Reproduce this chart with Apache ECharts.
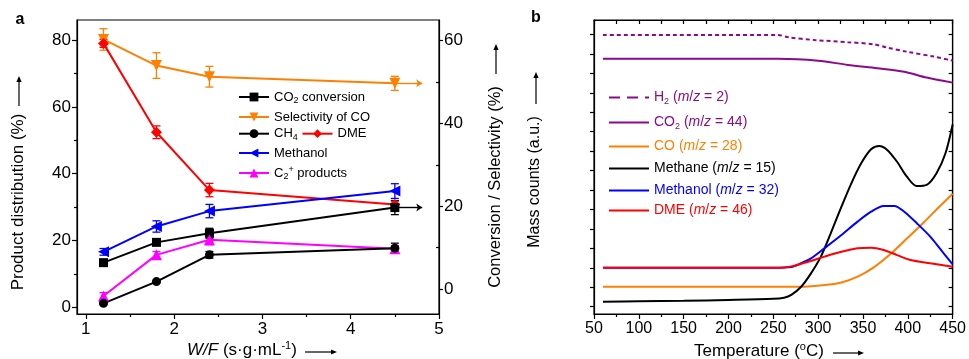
<!DOCTYPE html>
<html><head><meta charset="utf-8">
<script src="https://cdn.jsdelivr.net/npm/echarts@6/dist/echarts.min.js"></script>
<style>html,body{margin:0;padding:0;background:#fff}#c{width:969px;height:359px}</style>
</head><body><div id="c"></div>
<script>
// ---------- Panel a data ----------
const wf = [1.2, 1.8, 2.4, 4.5];
const wfTicks = [1, 2, 3, 4, 5];
const wfMinorTicks = [1.5, 2.5, 3.5, 4.5];
const leftTicks = [0, 20, 40, 60, 80];
const leftMinorTicks = [10, 30, 50, 70];
const rightTicks = [0, 20, 40, 60];
const rightMinorTicks = [10, 30, 50];
const co2Conversion = [6.4, 11.3, 13.5, 19.7];      // right axis
const co2ConversionErr = [0.4, 0.4, 1.2, 1.7];
const coSelectivity = [60.3, 54.0, 51.3, 49.7];     // right axis
const coSelectivityErr = [2.6, 3.1, 2.5, 1.7];
const ch4 = [1.2, 7.7, 15.7, 17.7];
const ch4Err = [0.4, 0.4, 1.0, 1.5];
const dme = [79.0, 52.4, 35.1, 30.8];
const dmeErr = [1.2, 1.9, 2.0, 1.0];
const methanol = [16.6, 24.2, 28.8, 34.8];
const methanolErr = [1.0, 1.7, 2.0, 2.2];
const c2plus = [3.4, 15.7, 20.2, 17.5];
const c2plusErr = [1.0, 1.0, 1.5, 1.0];
const arrowEndX = 4.81;

// ---------- Panel b data ----------
const bTicks = [0.375, 1.375, 2.375, 3.375, 4.375, 5.375, 6.375, 7.375, 8.375, 9.375, 10.375, 11.375, 12.375, 13.375, 14.375];
const h2T = [60, 255, 267, 296, 333, 362, 377, 399, 429, 450];
const h2V = [14.35, 14.35, 14.23, 14.09, 13.98, 13.87, 13.70, 13.49, 13.24, 13.03];
const co2T = [60, 255, 300, 333, 366, 396, 421, 450];
const co2V = [13.13, 13.13, 13.03, 12.81, 12.64, 12.46, 12.16, 11.90];
const coT = [60, 260, 289, 310, 326, 344, 362, 381, 399, 418, 436, 450];
const coV = [1.40, 1.40, 1.42, 1.50, 1.62, 1.92, 2.40, 3.10, 3.88, 4.72, 5.55, 6.18];
const methaneT = [60, 100, 150, 200, 250, 262, 270, 281, 292, 303, 314, 326, 337, 348, 359, 368, 377, 388, 399, 410, 421, 432, 442, 450];
const methaneV = [0.63, 0.66, 0.68, 0.72, 0.78, 0.84, 0.98, 1.40, 2.09, 2.95, 4.15, 5.52, 6.72, 7.75, 8.47, 8.64, 8.44, 7.83, 7.06, 6.58, 6.64, 7.24, 8.27, 9.75];
const methanolT = [60, 250, 270, 281, 292, 307, 326, 344, 359, 373, 385, 396, 410, 425, 440, 450];
const methanolV = [2.38, 2.38, 2.42, 2.61, 2.86, 3.38, 4.06, 4.75, 5.26, 5.56, 5.56, 5.26, 4.67, 3.98, 3.12, 2.55];
const dmeT = [60, 260, 270, 289, 307, 326, 344, 359, 373, 388, 403, 425, 450];
const dmeV = [2.38, 2.38, 2.45, 2.69, 2.95, 3.20, 3.38, 3.41, 3.29, 3.03, 2.78, 2.61, 2.43];

const FONT = '"Liberation Sans", Arial, Helvetica, sans-serif';
const ORANGE = '#ff8000', RED = '#ff0000', BLUE = '#0000ff', MAG = '#ff00ff', PURPLE = '#8b0a8b';
const AX = {color: '#000', width: 1.2};

function pairs(xs, ys) { return xs.map((x, i) => [x, ys[i]]); }

function errSeries(xs, ys, errs, color, yIdx) {
  return {
    type: 'custom', xAxisIndex: 0, yAxisIndex: yIdx, silent: true, z: 1,
    data: xs.map((x, i) => [x, ys[i], errs[i]]),
    renderItem(params, api) {
      const x = api.value(0), y = api.value(1), e = api.value(2);
      const t = api.coord([x, y + e]), b = api.coord([x, y - e]);
      const w = 4, st = {stroke: color, lineWidth: 1.3};
      return {type: 'group', children: [
        {type: 'line', shape: {x1: t[0], y1: t[1], x2: b[0], y2: b[1]}, style: st},
        {type: 'line', shape: {x1: t[0] - w, y1: t[1], x2: t[0] + w, y2: t[1]}, style: st},
        {type: 'line', shape: {x1: b[0] - w, y1: b[1], x2: b[0] + w, y2: b[1]}, style: st}
      ]};
    }
  };
}

function lineA(name, ys, color, symbol, size, yIdx, rotate, arrow) {
  const s = {
    name, type: 'line', xAxisIndex: 0, yAxisIndex: yIdx, data: pairs(wf, ys),
    symbol, symbolSize: size, symbolRotate: rotate || 0, showSymbol: true,
    lineStyle: {color, width: 2}, itemStyle: {color}, z: 3
  };
  if (arrow) {
    s.markLine = {
      silent: true, symbol: ['none', 'arrow'], symbolSize: 6, animation: false,
      label: {show: false}, lineStyle: {color, width: 1.4, type: 'solid'},
      data: [[{coord: [wf[3], ys[3]]}, {coord: [arrowEndX, ys[3]]}]]
    };
  }
  return s;
}

function lineB(name, xs, ys, color, dashed) {
  return {
    name, type: 'line', xAxisIndex: 2, yAxisIndex: 4, data: pairs(xs, ys),
    symbol: 'none', showSymbol: false, smooth: 0.3,
    lineStyle: {color, width: 2, type: dashed ? [4, 3] : 'solid'}, itemStyle: {color}
  };
}

function richA() {
  return {
    n: {fontSize: 13, lineHeight: 16, fontFamily: FONT, color: '#000'},
    s: {fontSize: 9, lineHeight: 9, verticalAlign: 'bottom', fontFamily: FONT, color: '#000'},
    p: {fontSize: 9, lineHeight: 9, verticalAlign: 'top', fontFamily: FONT, color: '#000'}
  };
}
function richB(c) {
  return {
    n: {fontSize: 14, lineHeight: 17, fontFamily: FONT, color: c},
    i: {fontSize: 14, lineHeight: 17, fontFamily: FONT, color: c, fontStyle: 'italic'},
    s: {fontSize: 9, lineHeight: 9, verticalAlign: 'bottom', fontFamily: FONT, color: c}
  };
}
const labelMap = {
  'CO2 conversion': '{n|CO}{s|2}{n| conversion}',
  'Selectivity of CO': '{n|Selectivity of CO}',
  'CH4': '{n|CH}{s|4}',
  'DME': '{n|DME}',
  'Methanol': '{n|Methanol}',
  'C2+ products': '{n|C}{s|2}{p|+}{n| products}',
  'H2 (m/z = 2)': '{n|H}{s|2}{n| (}{i|m}{n|/}{i|z}{n| = 2)}',
  'CO2 (m/z = 44)': '{n|CO}{s|2}{n| (}{i|m}{n|/}{i|z}{n| = 44)}',
  'CO (m/z = 28)': '{n|CO (}{i|m}{n|/}{i|z}{n| = 28)}',
  'Methane (m/z = 15)': '{n|Methane (}{i|m}{n|/}{i|z}{n| = 15)}',
  'Methanol (m/z = 32)': '{n|Methanol (}{i|m}{n|/}{i|z}{n| = 32)}',
  'DME (m/z = 46)': '{n|DME (}{i|m}{n|/}{i|z}{n| = 46)}'
};
function lg(name, left, cy, iw, ih, rich, hideSymbol, lineType) {
  const o = {
    data: [name], left, top: cy - ih / 2, padding: 0, itemGap: 0,
    itemWidth: iw, itemHeight: ih, selectedMode: false,
    formatter: n => labelMap[n], textStyle: {fontFamily: FONT, fontSize: 13, rich}
  };
  if (hideSymbol) o.itemStyle = {opacity: 0};
  if (lineType) o.lineStyle = {type: lineType};
  return o;
}

function arrow(x1, y1, x2, y2) {
  const dx = x2 - x1, dy = y2 - y1, L = Math.hypot(dx, dy), ux = dx / L, uy = dy / L;
  const hl = 6, hw = 2.6;
  const bx = x2 - ux * hl, by = y2 - uy * hl;
  return [
    {type: 'line', shape: {x1, y1, x2: bx, y2: by}, style: {stroke: '#000', lineWidth: 1.2}},
    {type: 'polygon', shape: {points: [[x2, y2], [bx - uy * hw, by + ux * hw], [bx + uy * hw, by - ux * hw]]}, style: {fill: '#000'}}
  ];
}
function txt(x, y, text, opt) {
  opt = opt || {};
  const st = {
    text, x: 0, y: 0, font: (opt.bold ? 'bold ' : '') + (opt.size || 15) + 'px ' + FONT,
    fill: '#000', align: opt.align || 'center', verticalAlign: 'middle',
    textAlign: opt.align || 'center', textVerticalAlign: 'middle'
  };
  if (opt.rich) st.rich = opt.rich;
  return {type: 'text', x, y, rotation: opt.rot || 0, style: st, z: 10};
}

const richName = {
  n: {fontSize: 17, lineHeight: 20, fontFamily: FONT, color: '#000'},
  i: {fontSize: 17, lineHeight: 20, fontFamily: FONT, color: '#000', fontStyle: 'italic'},
  p: {fontSize: 11, lineHeight: 11, verticalAlign: 'top', fontFamily: FONT, color: '#000'}
};

const graphics = [
  txt(20, 20, 'a', {bold: true, size: 16}),
  txt(536, 18, 'b', {bold: true, size: 16}),
  txt(18, 202, 'Product distribution (%)', {rot: Math.PI / 2, size: 17}),
  ...arrow(19, 106, 19, 76),
  txt(495, 187, 'Conversion / Selectivity (%)', {rot: Math.PI / 2, size: 16.5}),
  ...arrow(496, 74, 496, 44),
  txt(535, 182, 'Mass counts (a.u.)', {rot: Math.PI / 2, size: 16}),
  ...arrow(536, 104, 536, 72),
  txt(187, 350, '{i|W/F}{n| (s·g·mL}{p|-1}{n|)}', {align: 'left', rich: richName}),
  ...arrow(305, 352, 337, 352),
  txt(694, 351, '{n|Temperature (}{p|o}{n|C)}', {align: 'left', rich: richName}),
  ...arrow(833, 353, 864, 353)
];

const chart = echarts.init(document.getElementById('c'), null, {renderer: 'canvas'});
chart.setOption({
  animation: false,
  backgroundColor: '#fff',
  textStyle: {fontFamily: FONT},
  grid: [
    {left: 77, top: 20, width: 362, height: 294, show: true, borderColor: '#000', borderWidth: 1.2},
    {left: 594, top: 20, width: 362.7, height: 294, show: true, borderColor: '#000', borderWidth: 1.2}
  ],
  xAxis: [
    {gridIndex: 0, type: 'value', min: 0.9, max: 5, position: 'bottom',
      axisLine: {show: true, onZero: false, lineStyle: AX},
      axisTick: {show: true, length: 5, customValues: wfTicks, lineStyle: AX},
      axisLabel: {customValues: wfTicks, color: '#000', fontSize: 17, margin: 7, fontFamily: FONT},
      splitLine: {show: false}},
    {gridIndex: 0, type: 'value', min: 0.9, max: 5, position: 'bottom',
      axisLine: {show: false, onZero: false},
      axisTick: {show: true, length: 3, customValues: wfMinorTicks, lineStyle: AX},
      axisLabel: {show: false}, splitLine: {show: false}},
    {gridIndex: 1, type: 'value', min: 50, max: 450, interval: 50, position: 'bottom',
      axisLine: {show: true, onZero: false, lineStyle: AX},
      axisTick: {show: true, length: 5, lineStyle: AX},
      minorTick: {show: true, splitNumber: 2, length: 3, lineStyle: AX},
      axisLabel: {color: '#000', fontSize: 16, margin: 7, fontFamily: FONT},
      splitLine: {show: false}},
    {gridIndex: 1, type: 'value', min: 50, max: 450, interval: 25, position: 'top',
      axisLine: {show: true, onZero: false, lineStyle: AX},
      axisTick: {show: true, inside: true, length: 4, lineStyle: AX},
      axisLabel: {show: false}, splitLine: {show: false}}
  ],
  yAxis: [
    {gridIndex: 0, type: 'value', min: -2, max: 86, position: 'left',
      axisLine: {show: true, onZero: false, lineStyle: AX},
      axisTick: {show: true, length: 5, customValues: leftTicks, lineStyle: AX},
      axisLabel: {customValues: leftTicks, color: '#000', fontSize: 17, margin: 6, fontFamily: FONT},
      splitLine: {show: false}},
    {gridIndex: 0, type: 'value', min: -6, max: 65, position: 'right',
      axisLine: {show: true, onZero: false, lineStyle: AX},
      axisTick: {show: true, length: 4, customValues: rightTicks, lineStyle: AX},
      axisLabel: {customValues: rightTicks, color: '#000', fontSize: 17, margin: 5, fontFamily: FONT},
      splitLine: {show: false}},
    {gridIndex: 0, type: 'value', min: -2, max: 86, position: 'left',
      axisLine: {show: false, onZero: false},
      axisTick: {show: true, length: 3, customValues: leftMinorTicks, lineStyle: AX},
      axisLabel: {show: false}, splitLine: {show: false}},
    {gridIndex: 0, type: 'value', min: -6, max: 65, position: 'right',
      axisLine: {show: false, onZero: false},
      axisTick: {show: true, inside: true, length: 3, customValues: rightMinorTicks, lineStyle: AX},
      axisLabel: {show: false}, splitLine: {show: false}},
    {gridIndex: 1, type: 'value', min: 0, max: 15.12, position: 'left',
      axisLine: {show: true, onZero: false, lineStyle: AX},
      axisTick: {show: true, length: 4, customValues: bTicks, lineStyle: AX},
      axisLabel: {show: false}, splitLine: {show: false}},
    {gridIndex: 1, type: 'value', min: 0, max: 15.12, position: 'right',
      axisLine: {show: true, onZero: false, lineStyle: AX},
      axisTick: {show: true, inside: true, length: 4, customValues: bTicks, lineStyle: AX},
      axisLabel: {show: false}, splitLine: {show: false}}
  ],
  legend: [
    lg('CO2 conversion', 238, 96, 30, 11, richA()),
    lg('Selectivity of CO', 238, 116, 30, 11, richA()),
    lg('CH4', 238, 132.7, 30, 11, richA()),
    lg('DME', 301.5, 132.7, 30, 11, richA()),
    lg('Methanol', 238, 152, 30, 11, richA()),
    lg('C2+ products', 238, 170.5, 30, 11, richA()),
    lg('H2 (m/z = 2)', 608, 95.5, 40, 10, richB(PURPLE), true, [11, 7]),
    lg('CO2 (m/z = 44)', 608, 120.5, 40, 10, richB(PURPLE), true),
    lg('CO (m/z = 28)', 608, 144.5, 40, 10, richB(ORANGE), true),
    lg('Methane (m/z = 15)', 608, 166.5, 40, 10, richB('#000'), true),
    lg('Methanol (m/z = 32)', 608, 188.5, 40, 10, richB(BLUE), true),
    lg('DME (m/z = 46)', 608, 208.5, 40, 10, richB(RED), true)
  ],
  graphic: graphics,
  series: [
    errSeries(wf, coSelectivity, coSelectivityErr, ORANGE, 1),
    errSeries(wf, dme, dmeErr, RED, 0),
    errSeries(wf, methanol, methanolErr, BLUE, 0),
    errSeries(wf, co2Conversion, co2ConversionErr, '#000', 1),
    errSeries(wf, c2plus, c2plusErr, MAG, 0),
    errSeries(wf, ch4, ch4Err, '#000', 0),
    lineA('Selectivity of CO', coSelectivity, ORANGE, 'triangle', 11, 1, 180, true),
    lineA('DME', dme, RED, 'diamond', 11, 0),
    lineA('Methanol', methanol, BLUE, 'triangle', 11, 0, 90),
    lineA('CO2 conversion', co2Conversion, '#000', 'rect', 9, 1, 0, true),
    lineA('C2+ products', c2plus, MAG, 'triangle', 11, 0),
    lineA('CH4', ch4, '#000', 'circle', 9, 0),
    lineB('H2 (m/z = 2)', h2T, h2V, PURPLE, true),
    lineB('CO2 (m/z = 44)', co2T, co2V, PURPLE),
    lineB('CO (m/z = 28)', coT, coV, ORANGE),
    lineB('Methane (m/z = 15)', methaneT, methaneV, '#000'),
    lineB('Methanol (m/z = 32)', methanolT, methanolV, BLUE),
    lineB('DME (m/z = 46)', dmeT, dmeV, RED)
  ]
});
</script>
</body></html>
